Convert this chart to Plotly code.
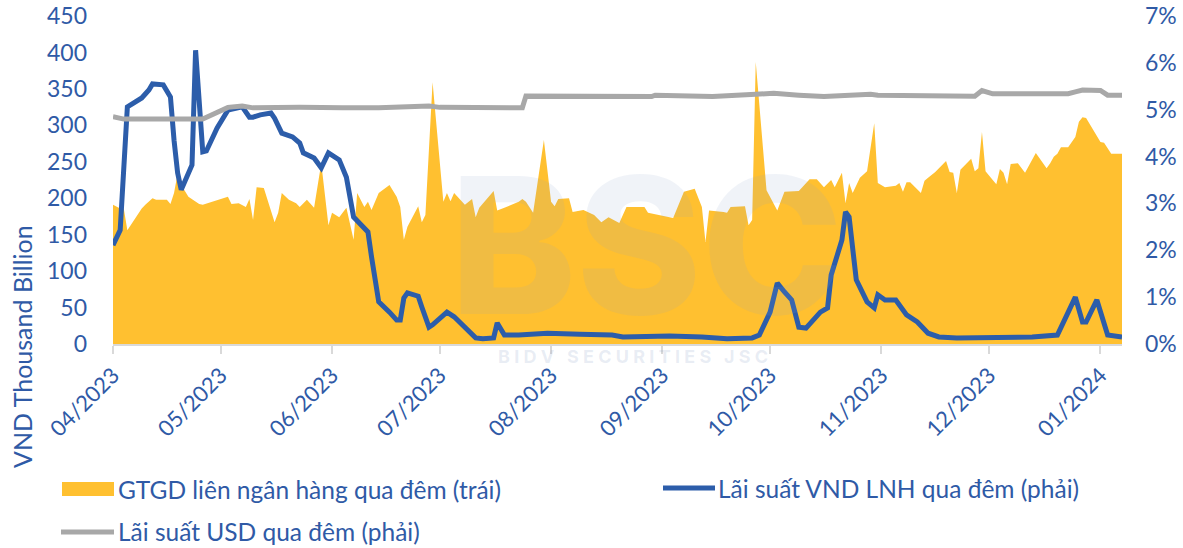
import plotly.graph_objects as go

# ---------------- data ----------------
area_dates = [
    "2023-04-01", "2023-04-03", "2023-04-04", "2023-04-05", "2023-04-09", "2023-04-10", "2023-04-12",
    "2023-04-13", "2023-04-16", "2023-04-17", "2023-04-18", "2023-04-19", "2023-04-20", "2023-04-22",
    "2023-04-25", "2023-04-26", "2023-05-03", "2023-05-04", "2023-05-06", "2023-05-08", "2023-05-09",
    "2023-05-10", "2023-05-11", "2023-05-13", "2023-05-16", "2023-05-17", "2023-05-18", "2023-05-20",
    "2023-05-22", "2023-05-23", "2023-05-25", "2023-05-27", "2023-05-29", "2023-05-31", "2023-06-01",
    "2023-06-03", "2023-06-05", "2023-06-07", "2023-06-08", "2023-06-10", "2023-06-11", "2023-06-12",
    "2023-06-14", "2023-06-17", "2023-06-19", "2023-06-20", "2023-06-21", "2023-06-22", "2023-06-25",
    "2023-06-26", "2023-06-27", "2023-06-29", "2023-07-02", "2023-07-03", "2023-07-04", "2023-07-05",
    "2023-07-08", "2023-07-10", "2023-07-11", "2023-07-12", "2023-07-16", "2023-07-17", "2023-07-19",
    "2023-07-23", "2023-07-24", "2023-07-25", "2023-07-27", "2023-07-30", "2023-08-01", "2023-08-02",
    "2023-08-03", "2023-08-06", "2023-08-07", "2023-08-10", "2023-08-13", "2023-08-15", "2023-08-17",
    "2023-08-20", "2023-08-22", "2023-08-27", "2023-08-28", "2023-09-04", "2023-09-07", "2023-09-10",
    "2023-09-12", "2023-09-13", "2023-09-14", "2023-09-18", "2023-09-19", "2023-09-20", "2023-09-24",
    "2023-09-25", "2023-09-26", "2023-09-27", "2023-09-30", "2023-10-03", "2023-10-05", "2023-10-09",
    "2023-10-12", "2023-10-14", "2023-10-16", "2023-10-18", "2023-10-19", "2023-10-21", "2023-10-22",
    "2023-10-23", "2023-10-24", "2023-10-26", "2023-10-28", "2023-10-30", "2023-10-31", "2023-11-02",
    "2023-11-05", "2023-11-06", "2023-11-07", "2023-11-08", "2023-11-09", "2023-11-12", "2023-11-13",
    "2023-11-14", "2023-11-16", "2023-11-19", "2023-11-20", "2023-11-21", "2023-11-22", "2023-11-23",
    "2023-11-26", "2023-11-27", "2023-11-28", "2023-11-29", "2023-11-30", "2023-12-02", "2023-12-03",
    "2023-12-04", "2023-12-05", "2023-12-06", "2023-12-07", "2023-12-09", "2023-12-11", "2023-12-14",
    "2023-12-17", "2023-12-18", "2023-12-19", "2023-12-20", "2023-12-21", "2023-12-23", "2023-12-25",
    "2023-12-26", "2023-12-27", "2023-12-28", "2024-01-01", "2024-01-02", "2024-01-04", "2024-01-07",
]
area_values = [
    191, 186, 186, 156, 186, 191, 200,
    198, 198, 192, 207, 234, 218, 202,
    192, 191, 202, 192, 193, 188, 199,
    170, 215, 214, 167, 180, 207, 198,
    193, 188, 198, 187, 248, 163, 180,
    174, 187, 143, 207, 188, 195, 184,
    207, 218, 202, 188, 143, 161, 189,
    167, 177, 359, 195, 207, 196, 207,
    191, 199, 174, 187, 210, 183, 187,
    195, 199, 195, 180, 280, 195, 189,
    199, 200, 181, 184, 177, 167, 174,
    166, 188, 188, 180, 173, 209, 213,
    188, 140, 183, 181, 180, 188, 189,
    163, 170, 387, 211, 183, 209, 210,
    226, 226, 215, 225, 215, 235, 193,
    221, 207, 228, 237, 303, 221, 215,
    217, 221, 209, 222, 222, 207, 224,
    228, 236, 251, 236, 235, 207, 239,
    254, 237, 241, 291, 237, 225, 219,
    240, 235, 219, 247, 248, 235, 262,
    241, 248, 257, 261, 270, 270, 284,
    305, 311, 310, 277, 276, 261, 261,
]

vnd_dates = [
    "2023-04-01", "2023-04-03", "2023-04-05", "2023-04-09", "2023-04-11", "2023-04-12", "2023-04-15",
    "2023-04-17", "2023-04-18", "2023-04-19", "2023-04-20", "2023-04-23", "2023-04-24", "2023-04-26",
    "2023-04-27", "2023-04-30", "2023-05-03", "2023-05-07", "2023-05-09", "2023-05-10", "2023-05-12",
    "2023-05-15", "2023-05-16", "2023-05-18", "2023-05-21", "2023-05-23", "2023-05-24", "2023-05-27",
    "2023-05-29", "2023-05-31", "2023-06-03", "2023-06-05", "2023-06-07", "2023-06-11", "2023-06-12",
    "2023-06-14", "2023-06-17", "2023-06-19", "2023-06-20", "2023-06-21", "2023-06-22", "2023-06-25",
    "2023-06-26", "2023-06-28", "2023-06-29", "2023-07-03", "2023-07-05", "2023-07-08", "2023-07-11",
    "2023-07-13", "2023-07-16", "2023-07-17", "2023-07-19", "2023-07-23", "2023-07-31", "2023-08-09",
    "2023-08-18", "2023-08-21", "2023-09-03", "2023-09-12", "2023-09-19", "2023-09-26", "2023-09-28",
    "2023-10-01", "2023-10-03", "2023-10-05", "2023-10-07", "2023-10-09", "2023-10-11", "2023-10-15",
    "2023-10-17", "2023-10-18", "2023-10-21", "2023-10-22", "2023-10-23", "2023-10-25", "2023-10-28",
    "2023-10-30", "2023-10-31", "2023-11-02", "2023-11-05", "2023-11-08", "2023-11-11", "2023-11-14",
    "2023-11-17", "2023-11-22", "2023-11-29", "2023-12-01", "2023-12-13", "2023-12-20", "2023-12-23",
    "2023-12-25", "2023-12-27", "2023-12-28", "2023-12-31", "2024-01-02", "2024-01-03", "2024-01-07",
]
vnd_values = [
    2.11, 2.43, 5.06, 5.25, 5.42, 5.55, 5.53,
    5.27, 4.35, 3.65, 3.29, 3.82, 6.27, 4.10,
    4.12, 4.61, 4.99, 5.06, 4.84, 4.84, 4.89,
    4.93, 4.82, 4.50, 4.42, 4.29, 4.08, 3.97,
    3.76, 4.08, 3.93, 3.56, 2.71, 2.39, 1.86,
    0.90, 0.68, 0.51, 0.51, 0.98, 1.09, 1.02,
    0.79, 0.36, 0.41, 0.68, 0.58, 0.34, 0.13,
    0.11, 0.13, 0.45, 0.19, 0.19, 0.23, 0.21,
    0.19, 0.15, 0.17, 0.15, 0.11, 0.13, 0.19,
    0.68, 1.30, 1.11, 0.94, 0.36, 0.34, 0.68,
    0.77, 1.47, 2.22, 2.82, 2.71, 1.37, 0.90,
    0.77, 1.05, 0.94, 0.94, 0.62, 0.47, 0.23,
    0.15, 0.13, 0.13, 0.15, 0.15, 0.19, 0.66,
    1.00, 0.47, 0.47, 0.94, 0.45, 0.19, 0.15,
]

usd_dates = [
    "2023-04-01", "2023-04-04", "2023-04-26", "2023-05-03", "2023-05-07", "2023-05-10", "2023-05-23",
    "2023-05-31", "2023-06-04", "2023-06-14", "2023-06-28", "2023-07-01", "2023-07-24", "2023-07-25",
    "2023-08-29", "2023-08-30", "2023-09-15", "2023-09-27", "2023-10-02", "2023-10-09", "2023-10-16",
    "2023-10-29", "2023-10-31", "2023-11-27", "2023-11-29", "2023-12-02", "2023-12-23", "2023-12-25",
    "2023-12-27", "2024-01-01", "2024-01-03", "2024-01-07",
]
usd_values = [
    4.85, 4.80, 4.80, 5.05, 5.08, 5.04, 5.05,
    5.06, 5.04, 5.04, 5.08, 5.05, 5.04, 5.29,
    5.28, 5.31, 5.28, 5.33, 5.35, 5.31, 5.28,
    5.33, 5.31, 5.29, 5.41, 5.34, 5.34, 5.38,
    5.42, 5.41, 5.31, 5.31,
]

tick_dates = ["2023-04-01", "2023-05-01", "2023-06-01", "2023-07-01", "2023-08-01",
              "2023-09-01", "2023-10-01", "2023-11-01", "2023-12-01", "2024-01-01"]
tick_labels = ["04/2023", "05/2023", "06/2023", "07/2023", "08/2023",
               "09/2023", "10/2023", "11/2023", "12/2023", "01/2024"]

series_names = ["GTGD liên ngân hàng qua đêm (trái)",
                "Lãi suất VND LNH qua đêm (phải)",
                "Lãi suất USD qua đêm (phải)"]

# ---------------- style ----------------
W, H = 1183, 548
ML, MR, MT, MB = 113, 61, 16, 204
YELLOW = "#FFC030"
BLUE = "#2C5DAA"
GRAY = "#A8A8A8"
TEXT = "#2F5AA6"
FONT = "Lato, 'Open Sans', sans-serif"
TICK_FS = 23
LEG_FS = 24.5


def px(x):
    return (x - ML) / (W - ML - MR)


def py(y):
    return (H - MB - y) / (H - MT - MB)


fig = go.Figure()
fig.add_trace(go.Scatter(x=area_dates, y=area_values, name=series_names[0], mode="none",
                         fill="tozeroy", fillcolor=YELLOW, yaxis="y", showlegend=False))
fig.add_trace(go.Scatter(x=vnd_dates, y=vnd_values, name=series_names[1], mode="lines",
                         line=dict(color=BLUE, width=5), yaxis="y2", showlegend=False))
fig.add_trace(go.Scatter(x=usd_dates, y=usd_values, name=series_names[2], mode="lines",
                         line=dict(color=GRAY, width=5), yaxis="y2", showlegend=False))

fig.update_layout(
    width=W, height=H,
    margin=dict(l=ML, r=MR, t=MT, b=MB, autoexpand=False),
    paper_bgcolor="white", plot_bgcolor="white",
    font=dict(family=FONT, size=TICK_FS, color=TEXT),
    xaxis=dict(type="date", range=["2023-04-01", "2024-01-07"], automargin=False,
               tickvals=tick_dates, ticktext=tick_labels, tickangle=-45,
               ticks="outside", ticklen=8, tickcolor="#D9D9D9", tickwidth=1.5,
               showline=True, linecolor="#D9D9D9", linewidth=1.5,
               showgrid=False, zeroline=False, tickfont=dict(size=22, color=TEXT)),
    yaxis=dict(range=[0, 450], dtick=50, showgrid=False, zeroline=False, showline=False,
               automargin=False, ticklabelstandoff=25, tickfont=dict(size=TICK_FS, color=TEXT)),
    yaxis2=dict(range=[0, 7], dtick=1, ticksuffix="%", overlaying="y", side="right",
                showgrid=False, zeroline=False, showline=False, automargin=False,
                ticklabelstandoff=22, tickfont=dict(size=TICK_FS, color=TEXT)),
    showlegend=False,
)

# watermark
fig.add_annotation(text="BSC", xref="paper", yref="paper", x=px(646), y=py(245),
                   xanchor="center", yanchor="middle", showarrow=False,
                   font=dict(family="Inter, 'Open Sans', sans-serif", weight=800, size=190,
                             color="rgba(140,160,200,0.13)"))
fig.add_annotation(text="B I D V   S E C U R I T I E S   J S C", xref="paper", yref="paper",
                   x=px(633), y=py(356), xanchor="center", yanchor="middle", showarrow=False,
                   font=dict(family="Inter, 'Open Sans', sans-serif", weight=700, size=18,
                             color="rgba(140,160,200,0.2)"))

# axis title
fig.add_annotation(text="VND Thousand Billion", xref="paper", yref="paper", x=px(22), y=py(347),
                   xanchor="center", yanchor="middle", textangle=-90, showarrow=False,
                   font=dict(size=25, color=TEXT))

# legend (drawn manually to match layout)
fig.add_shape(type="rect", xref="paper", yref="paper", x0=px(62), x1=px(114), y0=py(496), y1=py(482),
              fillcolor=YELLOW, line=dict(width=0))
fig.add_shape(type="line", xref="paper", yref="paper", x0=px(663), x1=px(715), y0=py(488), y1=py(488),
              line=dict(color=BLUE, width=5))
fig.add_shape(type="line", xref="paper", yref="paper", x0=px(61), x1=px(114), y0=py(532), y1=py(532),
              line=dict(color=GRAY, width=5))
for name, lx, ly in [(series_names[0], 116, 489), (series_names[1], 716, 488), (series_names[2], 116, 531)]:
    fig.add_annotation(text=name, xref="paper", yref="paper", x=px(lx), y=py(ly), xanchor="left",
                       yanchor="middle", showarrow=False, font=dict(size=LEG_FS, color=TEXT))

fig.write_html("out.html", config={"displayModeBar": False},
               post_script="document.body.style.margin='0px';")
